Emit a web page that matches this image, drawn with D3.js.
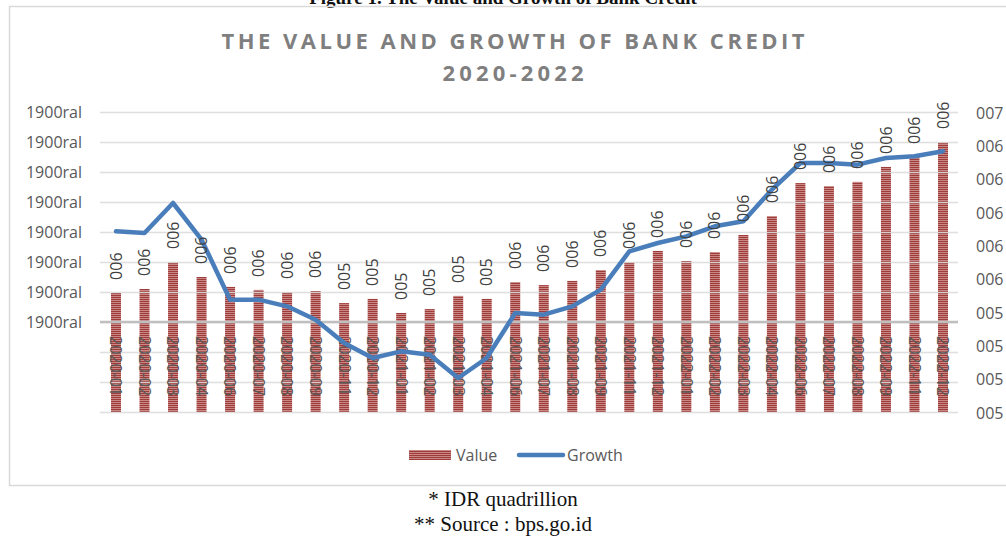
<!DOCTYPE html>
<html>
<head>
<meta charset="utf-8">
<script src="https://cdn.jsdelivr.net/npm/d3@7"></script>
<style>
  body { margin: 0; background: #fff; }
  text { font-family: "Open Sans", "Liberation Sans", sans-serif; }
</style>
</head>
<body>
<div class="chart"></div>
<script>
var svgWidth = 1006;
var svgHeight = 539;

// categories (months 05 and 10 are missing in the source)
var months = ["2020-01", "2020-02", "2020-03", "2020-04", "2020-06", "2020-07", "2020-08", "2020-09", "2020-11", "2020-12",
  "2021-01", "2021-02", "2021-03", "2021-04", "2021-06", "2021-07", "2021-08", "2021-09", "2021-11", "2021-12",
  "2022-01", "2022-02", "2022-03", "2022-04", "2022-06", "2022-07", "2022-08", "2022-09", "2022-11", "2022-12"];

// bar series, left axis units
var creditValue = [0.97, 1.10, 2.00, 1.50, 1.17, 1.07, 1.00, 1.03, 0.63, 0.77,
  0.30, 0.43, 0.87, 0.77, 1.33, 1.23, 1.37, 1.73, 2.00, 2.37,
  2.03, 2.33, 2.90, 3.53, 4.63, 4.53, 4.67, 5.17, 5.50, 6.00];

// line series, right axis units
var creditGrowth = [6.29, 6.28, 6.46, 6.24, 5.88, 5.88, 5.84, 5.76, 5.62, 5.53,
  5.57, 5.55, 5.41, 5.53, 5.80, 5.79, 5.84, 5.94, 6.17, 6.22,
  6.26, 6.32, 6.35, 6.54, 6.70, 6.70, 6.69, 6.73, 6.74, 6.77];

// data labels as printed on the bars
var valueLabels = ["006", "006", "006", "006", "006", "006", "006", "006", "005", "005",
  "005", "005", "005", "005", "006", "006", "006", "006", "006", "006",
  "006", "006", "006", "006", "006", "006", "006", "006", "006", "006"];

var leftTicks = d3.range(-3, 8);
var rightTicks = d3.range(0, 10).map(i => 5.2 + i * 0.2);

var plot = { left: 100, right: 958, top: 112, bottom: 412 };

var svg = d3.select(".chart")
  .append("svg")
  .attr("width", svgWidth)
  .attr("height", svgHeight);

var defs = svg.append("defs");
var pat = defs.append("pattern")
  .attr("id", "stripes")
  .attr("patternUnits", "userSpaceOnUse")
  .attr("width", 4)
  .attr("height", 2);
pat.append("rect").attr("width", 4).attr("height", 2).attr("fill", "#9e3c3a");
pat.append("rect").attr("width", 4).attr("height", 1).attr("fill", "#c98886");

// figure caption, cut by the top edge as in the source
svg.append("text")
  .attr("x", 503)
  .attr("y", 4)
  .attr("text-anchor", "middle")
  .style("font-family", "'Liberation Serif', serif")
  .style("font-weight", "bold")
  .style("font-size", "19px")
  .attr("fill", "#111")
  .text("Figure 1. The Value and Growth of Bank Credit");

// chart frame
svg.append("rect")
  .attr("x", 9.5)
  .attr("y", 6.5)
  .attr("width", 1010)
  .attr("height", 479)
  .attr("fill", "none")
  .attr("stroke", "#d9d9d9")
  .attr("stroke-width", 1.5);

// title
svg.append("text")
  .attr("x", 513)
  .attr("y", 49)
  .attr("text-anchor", "middle")
  .attr("textLength", 583)
  .attr("lengthAdjust", "spacing")
  .style("font-weight", "bold")
  .style("font-size", "22px")
  .attr("fill", "#7f7f7f")
  .text("THE VALUE AND GROWTH OF BANK CREDIT");

svg.append("text")
  .attr("x", 513)
  .attr("y", 81)
  .attr("text-anchor", "middle")
  .attr("textLength", 141)
  .attr("lengthAdjust", "spacing")
  .style("font-weight", "bold")
  .style("font-size", "22px")
  .attr("fill", "#7f7f7f")
  .text("2020-2022");

var xScale = d3.scalePoint()
  .domain(months)
  .range([116, 943]);

var yLeft = d3.scaleLinear()
  .domain([-3, 7])
  .range([plot.bottom, plot.top]);

var yRight = d3.scaleLinear()
  .domain([5.2, 7.0])
  .range([413, 113]);

// bars (drawn from the bottom of the value axis)
var barWidth = 10;
svg.append("g")
  .selectAll("rect")
  .data(creditValue)
  .enter()
  .append("rect")
  .attr("x", (d, i) => xScale(months[i]) - barWidth / 2)
  .attr("y", d => yLeft(d))
  .attr("width", barWidth)
  .attr("height", d => yLeft(-3) - yLeft(d))
  .attr("fill", "url(#stripes)");

// left axis with gridlines
var leftAxis = d3.axisLeft(yLeft)
  .tickValues(leftTicks)
  .tickSize(-(plot.right - plot.left))
  .tickPadding(18)
  .tickFormat(d => d >= 0 ? "1900ral" : "");

var gLeft = svg.append("g")
  .attr("transform", `translate(${plot.left}, 0)`)
  .call(leftAxis);
gLeft.select(".domain").remove();
gLeft.selectAll("line")
  .attr("stroke", "#d9d9d9")
  .attr("stroke-width", 1.5)
  .attr("stroke-opacity", 0.85);
gLeft.selectAll("text")
  .attr("fill", "#595959")
  .style("font-size", "16px");

// right axis
var rightAxis = d3.axisRight(yRight)
  .tickValues(rightTicks)
  .tickSize(0)
  .tickPadding(18)
  .tickFormat(d => "00" + Math.floor(d + 1e-6));

var gRight = svg.append("g")
  .attr("transform", `translate(${plot.right}, 0)`)
  .call(rightAxis);
gRight.select(".domain").remove();
gRight.selectAll("text")
  .attr("fill", "#595959")
  .style("font-size", "16px");

// horizontal category axis line at zero
svg.append("line")
  .attr("x1", plot.left)
  .attr("x2", plot.right)
  .attr("y1", yLeft(0))
  .attr("y2", yLeft(0))
  .attr("stroke", "#bfbfbf")
  .attr("stroke-width", 2.5);

// category labels
svg.append("g")
  .selectAll("text")
  .data(months)
  .enter()
  .append("text")
  .attr("transform", d => `translate(${xScale(d)}, ${yLeft(0) + 14}) rotate(90)`)
  .attr("dy", "0.35em")
  .attr("text-anchor", "start")
  .attr("fill", "#595959")
  .style("font-size", "16px")
  .text(d => d);

// growth line
var growthLine = d3.line()
  .x((d, i) => xScale(months[i]))
  .y(d => yRight(d));

svg.append("path")
  .datum(creditGrowth)
  .attr("d", growthLine)
  .attr("fill", "none")
  .attr("stroke", "#4a7ebb")
  .attr("stroke-width", 4.5)
  .attr("stroke-linejoin", "round")
  .attr("stroke-linecap", "round");

// data labels above the bars
svg.append("g")
  .selectAll("text")
  .data(creditValue)
  .enter()
  .append("text")
  .attr("transform", (d, i) => `translate(${xScale(months[i])}, ${yLeft(d) - 13}) rotate(-90)`)
  .attr("dy", "0.35em")
  .attr("text-anchor", "start")
  .attr("fill", "#404040")
  .style("font-size", "16px")
  .text((d, i) => valueLabels[i]);

// legend
var legend = svg.append("g");
legend.append("rect")
  .attr("x", 409)
  .attr("y", 450)
  .attr("width", 42)
  .attr("height", 10)
  .attr("fill", "url(#stripes)");
legend.append("text")
  .attr("x", 456)
  .attr("y", 461)
  .attr("fill", "#595959")
  .style("font-size", "16px")
  .text("Value");
legend.append("line")
  .attr("x1", 519)
  .attr("x2", 563)
  .attr("y1", 455)
  .attr("y2", 455)
  .attr("stroke", "#4a7ebb")
  .attr("stroke-width", 4.5)
  .attr("stroke-linecap", "round");
legend.append("text")
  .attr("x", 567)
  .attr("y", 461)
  .attr("fill", "#595959")
  .style("font-size", "16px")
  .text("Growth");

// notes below the chart
svg.append("text")
  .attr("x", 503)
  .attr("y", 506)
  .attr("text-anchor", "middle")
  .style("font-family", "'Liberation Serif', serif")
  .style("font-size", "21px")
  .attr("fill", "#111")
  .text("* IDR quadrillion");

svg.append("text")
  .attr("x", 503)
  .attr("y", 531)
  .attr("text-anchor", "middle")
  .style("font-family", "'Liberation Serif', serif")
  .style("font-size", "21px")
  .attr("fill", "#111")
  .text("** Source : bps.go.id");
</script>
</body>
</html>
